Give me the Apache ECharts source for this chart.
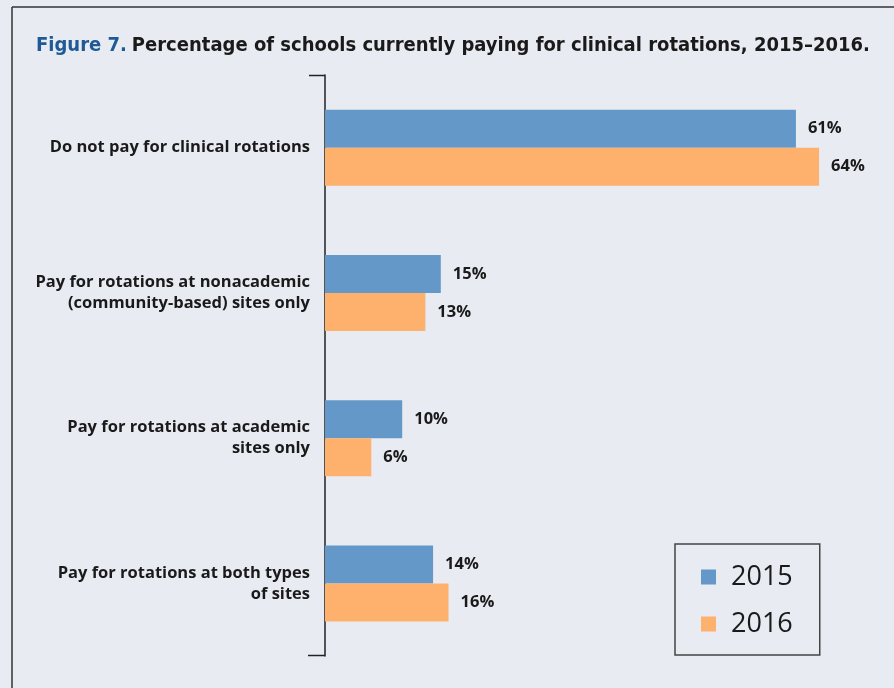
<!DOCTYPE html>
<html><head><meta charset="utf-8">
<script src="https://cdn.jsdelivr.net/npm/echarts@6/dist/echarts.min.js"></script>
<style>html,body{margin:0;padding:0;background:#e8ebf2}#c{width:894px;height:688px}</style>
</head><body><div id="c"></div>
<script>
const categories = [
  "Do not pay for clinical rotations",
  "Pay for rotations at nonacademic\n(community-based) sites only",
  "Pay for rotations at academic\nsites only",
  "Pay for rotations at both types\nof sites"
];
const seriesNames = ["2015", "2016"];
const values2015 = [61, 15, 10, 14];
const values2016 = [64, 13, 6, 16];
const titleLead = "Figure 7.";
const titleText = "Percentage of schools currently paying for clinical rotations, 2015\u20132016.";

const chart = echarts.init(document.getElementById('c'), null, {renderer: 'canvas'});
const labelFont = '"Open Sans", "Noto Sans", sans-serif';
const titleFont = '"DejaVu Sans Condensed", "Liberation Sans Narrow", sans-serif';
const valueLabel = {
  show: true, position: 'right', distance: 12,
  formatter: p => p.value + '%',
  fontFamily: labelFont, fontWeight: 'bold', fontSize: 16.5, color: '#1a1a1a'
};
chart.setOption({
  backgroundColor: '#e8ebf2',
  animation: false,
  title: {
    left: 36, top: 36, padding: 0,
    text: '{a|' + titleLead + '} {b|' + titleText + '}',
    textStyle: {
      rich: {
        a: {fontFamily: titleFont, fontWeight: 'bold', fontSize: 20, color: '#1f5a96'},
        b: {fontFamily: titleFont, fontWeight: 'bold', fontSize: 20, color: '#1a1a1a'}
      }
    }
  },
  legend: {
    orient: 'vertical', left: 675, top: 544,
    padding: [18, 27, 16, 26],
    itemWidth: 15, itemHeight: 15, itemGap: 17,
    borderColor: '#444', borderWidth: 1.5,
    icon: 'rect',
    textStyle: {fontFamily: labelFont, fontSize: 27, color: '#1a1a1a', lineHeight: 30, padding: [0, 0, 0, 10]},
    data: seriesNames
  },
  grid: {left: 325, top: 75, bottom: 32, width: 540.4},
  xAxis: {type: 'value', min: 0, max: 70, show: false},
  yAxis: {
    type: 'category', data: categories, inverse: true,
    axisLine: {show: true, lineStyle: {color: '#222', width: 1.5}},
    axisTick: {show: false},
    axisLabel: {
      margin: 15, align: 'right',
      fontFamily: labelFont, fontWeight: 'bold', fontSize: 16.5, lineHeight: 21, color: '#1a1a1a'
    }
  },
  series: [
    {name: seriesNames[0], type: 'bar', data: values2015, barWidth: 38, barGap: '0%',
     itemStyle: {color: '#6398c9'}, label: valueLabel},
    {name: seriesNames[1], type: 'bar', data: values2016, barWidth: 38, barGap: '0%',
     itemStyle: {color: '#fdb16c'}, label: valueLabel}
  ],
  graphic: [
    {type: 'line', shape: {x1: 12, y1: 7, x2: 894, y2: 7}, style: {stroke: '#333', lineWidth: 1.5}},
    {type: 'line', shape: {x1: 12, y1: 7, x2: 12, y2: 688}, style: {stroke: '#333', lineWidth: 1.5}},
    {type: 'line', shape: {x1: 309, y1: 75.5, x2: 325, y2: 75.5}, style: {stroke: '#222', lineWidth: 1.5}},
    {type: 'line', shape: {x1: 308, y1: 655.5, x2: 325, y2: 655.5}, style: {stroke: '#222', lineWidth: 1.5}}
  ]
});
</script></body></html>
